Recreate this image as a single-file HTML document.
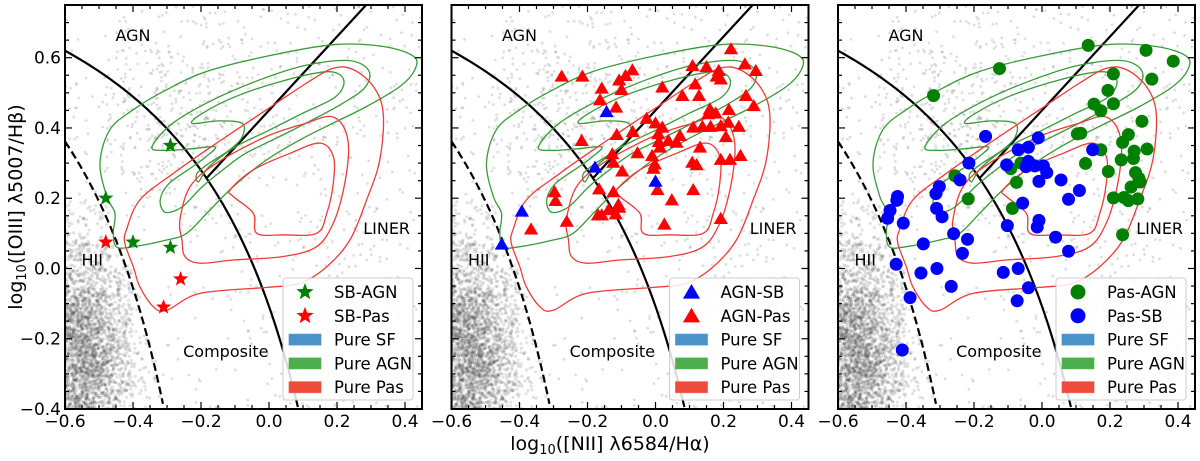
<!DOCTYPE html>
<html><head><meta charset="utf-8"><style>
html,body{margin:0;padding:0;background:#fff;overflow:hidden;width:1200px;height:461px;}
svg{display:block;font-family:"DejaVu Sans","Liberation Sans",sans-serif;}
</style></head><body>
<svg id="chart" width="1200" height="461" viewBox="0 0 1200 461" xmlns="http://www.w3.org/2000/svg"></svg>
<script>
// ---- data ----
const xTicks = [-0.6,-0.4,-0.2,0.0,0.2,0.4];
const xTickLabels = ["\u22120.6","\u22120.4","\u22120.2","0.0","0.2","0.4"];
const yTicks = [-0.4,-0.2,0.0,0.2,0.4,0.6];
const yTickLabels = ["\u22120.4","\u22120.2","0.0","0.2","0.4","0.6"];
const sbAgnX = [-0.48,-0.40,-0.29,-0.29];
const sbAgnY = [0.20,0.075,0.06,0.35];
const sbPasX = [-0.48,-0.26,-0.31];
const sbPasY = [0.075,-0.03,-0.11];
const agnSbX = [-0.144,-0.178,0.0,-0.393,-0.452];
const agnSbY = [0.444,0.286,0.246,0.161,0.067];
const agnPasX = [0.222,0.263,0.295,0.109,0.150,0.186,0.192,0.180,-0.276,-0.215,-0.068,-0.088,-0.107,-0.158,-0.100,0.020,0.117,0.079,0.128,0.266,-0.163,-0.116,0.289,0.216,0.160,0.155,0.177,-0.026,0.000,0.020,0.111,0.138,0.162,0.192,0.214,0.245,0.008,-0.114,-0.067,-0.217,0.010,0.038,0.072,0.207,0.062,0.013,0.131,-0.053,-0.127,-0.010,-0.124,-0.002,-0.006,0.108,0.121,0.192,0.219,0.250,-0.098,-0.166,-0.124,0.006,0.111,-0.297,-0.294,0.048,-0.109,-0.138,-0.107,-0.169,-0.158,-0.117,-0.261,0.026,0.192,-0.366];
const agnPasY = [0.623,0.580,0.561,0.575,0.572,0.561,0.537,0.545,0.545,0.545,0.563,0.547,0.534,0.511,0.507,0.514,0.523,0.490,0.490,0.490,0.478,0.457,0.461,0.450,0.452,0.438,0.440,0.425,0.412,0.400,0.400,0.402,0.402,0.404,0.414,0.402,0.381,0.379,0.387,0.362,0.359,0.362,0.376,0.373,0.357,0.343,0.343,0.327,0.324,0.319,0.300,0.295,0.283,0.300,0.293,0.308,0.308,0.319,0.275,0.224,0.216,0.222,0.222,0.216,0.191,0.193,0.180,0.165,0.172,0.150,0.150,0.153,0.132,0.124,0.140,0.110];
const pasAgnX = [0.136,0.306,0.386,0.323,0.210,0.194,0.210,0.153,0.173,-0.125,-0.319,0.294,0.114,0.104,0.254,0.237,0.309,0.271,0.173,0.233,0.269,0.128,0.195,0.275,0.285,0.289,0.262,0.210,0.241,0.254,0.282,-0.092,-0.062,-0.075,-0.087,-0.217,-0.256,0.237];
const pasAgnY = [0.635,0.621,0.590,0.539,0.554,0.507,0.469,0.468,0.449,0.569,0.492,0.419,0.385,0.383,0.381,0.359,0.340,0.334,0.338,0.309,0.313,0.299,0.276,0.273,0.257,0.246,0.232,0.201,0.202,0.193,0.198,0.284,0.300,0.245,0.171,0.198,0.264,0.096];
const pasSbX = [-0.166,-0.011,-0.070,-0.040,0.149,-0.215,-0.104,-0.040,-0.047,-0.021,0.004,0.014,0.056,-0.009,0.110,0.078,-0.057,-0.241,-0.302,-0.312,-0.425,-0.427,-0.447,-0.454,-0.310,-0.294,-0.408,-0.102,-0.009,-0.014,-0.260,-0.219,-0.349,-0.234,0.040,0.078,-0.429,-0.309,-0.356,-0.114,-0.070,-0.267,-0.040,-0.388,-0.073,-0.411];
const pasSbY = [0.376,0.372,0.338,0.345,0.338,0.300,0.295,0.305,0.290,0.292,0.292,0.273,0.252,0.248,0.222,0.197,0.186,0.252,0.233,0.213,0.205,0.194,0.165,0.143,0.171,0.147,0.129,0.122,0.137,0.118,0.099,0.083,0.070,0.043,0.089,0.049,0.012,0.000,-0.013,-0.011,0.000,-0.051,-0.055,-0.083,-0.092,-0.232];
// contour vertices (data coords)
const agnOuterX=[-0.497,-0.468,-0.399,-0.301,-0.183,-0.007,0.189,0.336,0.425,0.429,0.385,0.287,0.189,0.091,-0.007,-0.105,-0.183,-0.242,-0.301,-0.399,-0.448,-0.458,-0.453,-0.477];
const agnOuterY=[0.300,0.395,0.452,0.509,0.561,0.604,0.637,0.632,0.604,0.566,0.518,0.461,0.414,0.366,0.309,0.233,0.157,0.100,0.081,0.062,0.061,0.100,0.157,0.205];
const agnMidX=[-0.344,-0.285,-0.167,-0.030,0.107,0.234,0.293,0.283,0.215,0.126,0.028,-0.070,-0.138,-0.197,-0.256,-0.305,-0.320,-0.295,-0.226,-0.187,-0.158,-0.226,-0.305];
const agnMidY=[0.346,0.412,0.479,0.536,0.578,0.592,0.564,0.516,0.469,0.422,0.374,0.327,0.279,0.232,0.175,0.160,0.195,0.241,0.289,0.317,0.346,0.341,0.336];
const agnInX=[-0.226,-0.197,-0.099,0.048,0.175,0.220,0.195,0.097,-0.001,-0.099,-0.177,-0.207,-0.212,-0.177,-0.118,-0.079,-0.079,-0.148];
const agnInY=[0.413,0.441,0.489,0.536,0.560,0.536,0.488,0.441,0.393,0.346,0.289,0.247,0.270,0.299,0.336,0.374,0.413,0.420];
const pasOuterX=[-0.419,-0.380,-0.281,-0.154,-0.007,0.111,0.189,0.248,0.307,0.336,0.326,0.287,0.238,0.170,0.091,-0.007,-0.203,-0.301,-0.340,-0.380,-0.399,-0.424];
const pasOuterY=[0.110,0.195,0.271,0.357,0.452,0.528,0.570,0.566,0.518,0.442,0.309,0.195,0.081,0.005,-0.042,-0.054,-0.071,-0.119,-0.109,-0.052,0.005,0.072];
const pasMidX=[-0.262,-0.232,-0.154,-0.007,0.111,0.179,0.219,0.234,0.219,0.189,0.140,0.042,-0.105,-0.203,-0.247,-0.256];
const pasMidY=[0.138,0.233,0.300,0.376,0.414,0.433,0.404,0.338,0.224,0.129,0.062,0.034,0.024,0.015,0.034,0.081];
const pasInX=[-0.114,-0.046,0.062,0.150,0.189,0.189,0.170,0.140,0.042,-0.036,-0.046,-0.105];
const pasInY=[0.224,0.281,0.328,0.357,0.319,0.243,0.157,0.100,0.096,0.100,0.157,0.205];

// ---- layout ----
const NS="http://www.w3.org/2000/svg";
const svg=document.getElementById('chart');
const PW=357, TOP=5, BOT=409;
const panelsLeft=[65,451.5,838];
const X0=-0.6,X1=0.45,Y0=-0.4,Y1=0.75;
function mk(tag,attrs,parent){const e=document.createElementNS(NS,tag);for(const k in attrs)e.setAttribute(k,attrs[k]);(parent||svg).appendChild(e);return e;}
function smooth(pts){let d='';const n=pts.length;for(let i=0;i<n;i++){const p0=pts[(i-1+n)%n],p1=pts[i],p2=pts[(i+1)%n],p3=pts[(i+2)%n];if(i===0)d+='M'+p1[0].toFixed(1)+' '+p1[1].toFixed(1);const c1=[p1[0]+(p2[0]-p0[0])/6,p1[1]+(p2[1]-p0[1])/6],c2=[p2[0]-(p3[0]-p1[0])/6,p2[1]-(p3[1]-p1[1])/6];d+=' C'+c1[0].toFixed(1)+' '+c1[1].toFixed(1)+' '+c2[0].toFixed(1)+' '+c2[1].toFixed(1)+' '+p2[0].toFixed(1)+' '+p2[1].toFixed(1);}return d+'Z';}
let seed=12345;function rnd(){seed=(seed*1103515245+12345)%2147483648;return seed/2147483648;}
function gauss(){return Math.sqrt(-2*Math.log(rnd()+1e-9))*Math.cos(2*Math.PI*rnd());}
// background galaxy sample (fixed seed, decorative)
const bgX=[],bgY=[];
for(let i=0;i<700;i++){const x=-0.45+rnd()*0.9,y=-0.4+rnd()*1.15;const kw=0.61/(x-0.47)+1.19;if(y>kw-0.25||rnd()<0.35){bgX.push(x);bgY.push(y);}}
for(let i=0;i<350;i++){const x=-0.3+gauss()*0.15,y=0.45+gauss()*0.13;bgX.push(x);bgY.push(y);}
const hiiX=[],hiiY=[];
for(let i=0;i<4500;i++){const x=-0.56+gauss()*0.08,y=-0.25+gauss()*0.17;const ka=0.61/(x-0.05)+1.3;if(y<ka+0.03){hiiX.push(x);hiiY.push(y);}}

panelsLeft.forEach((L,pi)=>{
  const sx=v=>L+(v-X0)/(X1-X0)*PW;
  const sy=v=>BOT-(v-Y0)/(Y1-Y0)*(BOT-TOP);
  const g=mk('g',{});
  
  
  const cp=mk('clipPath',{id:'clip'+pi},g);mk('rect',{x:L,y:TOP,width:PW,height:BOT-TOP},cp);
  const plot=mk('g',{'clip-path':'url(#clip'+pi+')'},g);
  const bg=mk('g',{},plot);
  
  
  for(let i=0;i<bgX.length;i++)mk('circle',{cx:sx(bgX[i]).toFixed(1),cy:sy(bgY[i]).toFixed(1),r:1.4,fill:'#888','fill-opacity':0.28},bg);
  for(let i=0;i<hiiX.length;i++)mk('circle',{cx:sx(hiiX[i]).toFixed(1),cy:sy(hiiY[i]).toFixed(1),r:1.6,fill:'#333','fill-opacity':0.14},bg);
  // demarcation lines
  let d='';for(let x=-0.6;x<=0.087;x+=0.005){d+=(d?'L':'M')+sx(x).toFixed(1)+' '+sy(0.61/(x-0.47)+1.19).toFixed(1);}
  const kew=mk('path',{d:d,fill:'none',stroke:'#000','stroke-width':2.2},plot);
  
  d='';for(let x=-0.6;x<=-0.308;x+=0.004){d+=(d?'L':'M')+sx(x).toFixed(1)+' '+sy(0.61/(x-0.05)+1.3).toFixed(1);}
  const kau=mk('path',{d:d,fill:'none',stroke:'#000','stroke-width':2.2,'stroke-dasharray':'8,4'},plot);
  
  const sch=mk('line',{x1:sx(-0.183),y1:sy(1.05*-0.183+0.45),x2:sx(0.3),y2:sy(1.05*0.3+0.45),stroke:'#000','stroke-width':2.2},plot);
  
  // contours
  [[agnOuterX,agnOuterY,'#3a9a3a','agn-contour-outer'],[agnMidX,agnMidY,'#3a9a3a','agn-contour-mid'],[agnInX,agnInY,'#3a9a3a','agn-contour-inner'],
   [pasOuterX,pasOuterY,'#f03a3a','pas-contour-outer'],[pasMidX,pasMidY,'#f03a3a','pas-contour-mid'],[pasInX,pasInY,'#f03a3a','pas-contour-inner']].forEach(c=>{
    const pts=c[0].map((v,i)=>[sx(v),sy(c[1][i])]);
    const p=mk('path',{d:smooth(pts),fill:'none',stroke:c[2],'stroke-width':1.3},plot);
    
    
  });
  // region labels
  [['AGN',-0.40,0.665,'region-label-agn'],['HII',-0.52,0.025,'region-label-hii'],['LINER',0.346,0.115,'region-label-liner'],['Composite',-0.127,-0.235,'region-label-composite']].forEach(t=>{
    const e=mk('text',{x:sx(t[1]),y:sy(t[2])+6,'font-size':16,'text-anchor':'middle',fill:'#000'},plot);e.textContent=t[0];
    
    
  });
  // markers
  function star(cx,cy,r,fill,parent){let d='';for(let k=0;k<10;k++){const a=-Math.PI/2+k*Math.PI/5,rr=k%2?r*0.42:r;d+=(k?'L':'M')+(cx+rr*Math.cos(a)).toFixed(1)+' '+(cy+rr*Math.sin(a)).toFixed(1);}return mk('path',{d:d+'Z',fill:fill},parent);}
  function tri(cx,cy,r,fill,parent){return mk('path',{d:'M'+cx+' '+(cy-r)+'L'+(cx+r*0.95)+' '+(cy+r*0.62)+'L'+(cx-r*0.95)+' '+(cy+r*0.62)+'Z',fill:fill},parent);}
  let legend;
  if(pi===0){
    sbAgnX.forEach((v,i)=>{const e=star(sx(v),sy(sbAgnY[i]),8,'#008000',plot);});
    sbPasX.forEach((v,i)=>{const e=star(sx(v),sy(sbPasY[i]),8,'#ff0000',plot);});
    legend=[['SB-AGN','#008000','star'],['SB-Pas','#ff0000','star']];
  } else if(pi===1){
    agnPasX.forEach((v,i)=>{const e=tri(sx(v),sy(agnPasY[i]),7.5,'#ff0000',plot);});
    agnSbX.forEach((v,i)=>{const e=tri(sx(v),sy(agnSbY[i]),7.5,'#0000ff',plot);});
    legend=[['AGN-SB','#0000ff','tri'],['AGN-Pas','#ff0000','tri']];
  } else {
    pasAgnX.forEach((v,i)=>{const e=mk('circle',{cx:sx(v),cy:sy(pasAgnY[i]),r:6.5,fill:'#008000'},plot);});
    pasSbX.forEach((v,i)=>{const e=mk('circle',{cx:sx(v),cy:sy(pasSbY[i]),r:6.5,fill:'#0000ff'},plot);});
    legend=[['Pas-AGN','#008000','dot'],['Pas-SB','#0000ff','dot']];
  }
  // axes frame + ticks
  const fr=mk('rect',{x:L,y:TOP,width:PW,height:BOT-TOP,fill:'none',stroke:'#000','stroke-width':2},g);
  
  const tk=mk('g',{stroke:'#000','stroke-width':1.2},g);
  for(let i=0;i<=21;i++){const v=-0.6+i*0.05,x=sx(v);const len=(Math.abs((v+0.6)/0.2-Math.round((v+0.6)/0.2))<1e-6)?7:4;if(x>L+PW)break;mk('line',{x1:x,y1:BOT,x2:x,y2:BOT-len},tk);mk('line',{x1:x,y1:TOP,x2:x,y2:TOP+len},tk);}
  for(let i=0;i<=23;i++){const v=-0.4+i*0.05,y=sy(v);const len=(Math.abs((v+0.4)/0.2-Math.round((v+0.4)/0.2))<1e-6)?7:4;if(y<TOP)break;mk('line',{x1:L,y1:y,x2:L+len,y2:y},tk);mk('line',{x1:L+PW,y1:y,x2:L+PW-len,y2:y},tk);}
  xTicks.forEach((v,i)=>{const e=mk('text',{x:sx(v),y:427,'font-size':17,'text-anchor':'middle'},g);e.textContent=xTickLabels[i];});
  if(pi===0)yTicks.forEach((v,i)=>{const e=mk('text',{x:L-4,y:sy(v)+6,'font-size':17,'text-anchor':'end'},g);e.textContent=yTickLabels[i];});
  // legend
  const lg=mk('g',{},g);
  
  
  const lx=L+PW-139;
  mk('rect',{x:lx,y:278,width:130,height:122,rx:3,fill:'#fff','fill-opacity':0.85,stroke:'#ccc','stroke-width':1},lg);
  const items=legend.concat([['Pure SF','#4a93c7','patch'],['Pure AGN','#4cae4c','patch'],['Pure Pas','#f04a3a','patch']]);
  items.forEach((it,k)=>{const y=292+k*23.8;let m;
    if(it[2]==='star')m=star(lx+22,y,9,it[1],lg);
    else if(it[2]==='tri')m=tri(lx+22,y+1,9,it[1],lg);
    else if(it[2]==='dot')m=mk('circle',{cx:lx+22,cy:y,r:7.5,fill:it[1]},lg);
    else m=mk('rect',{x:lx+6,y:y-5.5,width:32,height:11,fill:it[1],stroke:it[1],'stroke-opacity':0.6},lg);
    
    
    const t=mk('text',{x:lx+51,y:y+6,'font-size':16.5},lg);t.textContent=it[0];
    
    
  });
});
// axis titles
const xt=mk('text',{x:610,y:450,'font-size':19,'text-anchor':'middle'});
xt.innerHTML='log<tspan font-size="13" dy="4">10</tspan><tspan dy="-4">([NII] \u03BB6584/H\u03B1)</tspan>';


const yt=mk('text',{x:0,y:0,'font-size':19,'text-anchor':'middle',transform:'translate(22,207) rotate(-90)'});
yt.innerHTML='log<tspan font-size="13" dy="4">10</tspan><tspan dy="-4">([OIII] \u03BB5007/H\u03B2)</tspan>';


</script>
</body></html>
